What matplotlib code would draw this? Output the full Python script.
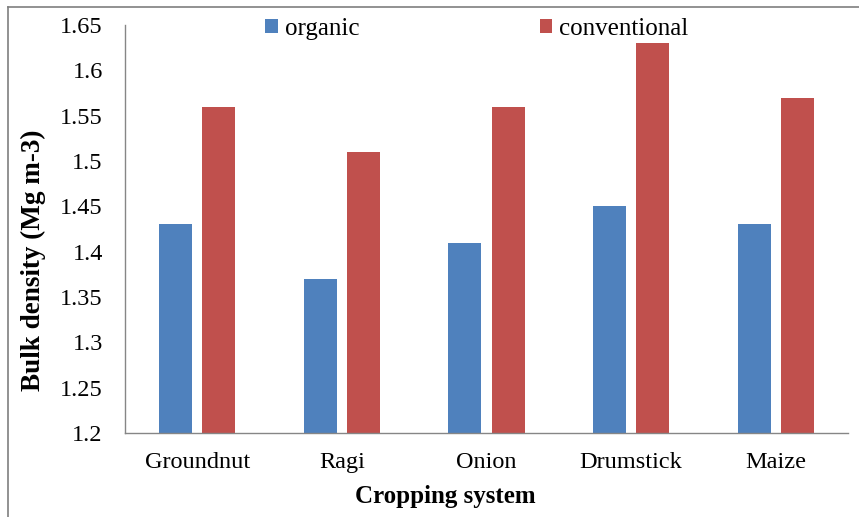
import matplotlib
matplotlib.use("Agg")
import matplotlib.pyplot as plt
import numpy as np
from matplotlib.patches import Patch
from matplotlib.lines import Line2D

categories = ["Groundnut", "Ragi", "Onion", "Drumstick", "Maize"]
organic = [1.43, 1.37, 1.41, 1.45, 1.43]
conventional = [1.56, 1.51, 1.56, 1.63, 1.57]
yticks = [1.2, 1.25, 1.3, 1.35, 1.4, 1.45, 1.5, 1.55, 1.6, 1.65]
yticklabels = ["1.2", "1.25", "1.3", "1.35", "1.4", "1.45", "1.5", "1.55", "1.6", "1.65"]

plt.rcParams['font.family'] = ['Liberation Serif', 'DejaVu Serif']

fig = plt.figure(figsize=(8.59, 5.17), dpi=100)
ax = fig.add_axes([125/859, 1-433/517, (848-125)/859, (433-25)/517])

x = np.arange(len(categories))
w = 0.228
off = 0.149
blue = "#4F81BD"
red = "#C0504D"
ax.bar(x - off, organic, w, color=blue, label="organic")
ax.bar(x + off, conventional, w, color=red, label="conventional")

ax.set_xlim(-0.5, len(categories) - 0.5)
ax.set_ylim(1.2, 1.65)
ax.set_yticks(yticks)
ax.set_yticklabels(yticklabels, fontsize=17.5)
ax.set_xticks(x)
ax.set_xticklabels(categories, fontsize=17.5)
ax.tick_params(axis='x', length=0, pad=14)
ax.tick_params(axis='y', length=0, pad=16)
for s in ["top", "right"]:
    ax.spines[s].set_visible(False)
for s in ["left", "bottom"]:
    ax.spines[s].set_color("#868686")
    ax.spines[s].set_linewidth(1)

ax.set_xlabel("Cropping system", fontsize=18, fontweight="bold", labelpad=8, x=0.443)
ax.set_ylabel("Bulk density (Mg m-3)", fontsize=19.5, fontweight="bold", labelpad=10, y=0.424)

handles = [Patch(facecolor=blue), Patch(facecolor=red)]
fig.legend(handles, ["organic", "conventional"], loc="center left",
           bbox_to_anchor=(265/859, 1-29/517), ncol=2, frameon=False,
           fontsize=18, handlelength=0.5, handleheight=0.5, handletextpad=0.3,
           columnspacing=7.2, borderaxespad=0, borderpad=0)

# figure border (top and left visible)
fig.add_artist(Line2D([8/859, 1], [1-7/517, 1-7/517], color="#7f7f7f", lw=1.2, transform=fig.transFigure))
fig.add_artist(Line2D([8/859, 8/859], [0, 1-7/517], color="#7f7f7f", lw=1.2, transform=fig.transFigure))

fig.savefig("out.png", dpi=100)
